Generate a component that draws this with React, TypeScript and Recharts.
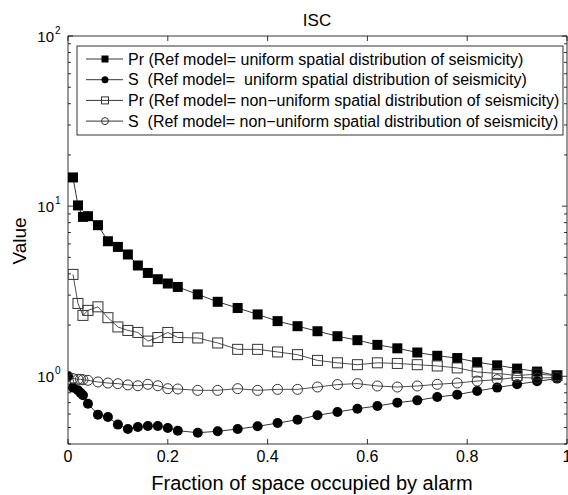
import { LineChart, Line, XAxis, YAxis, ReferenceArea } from "recharts";

// x positions (fraction of space occupied by alarm)
const PR_X = [
  0.01, 0.02, 0.03, 0.04, 0.06, 0.08, 0.1, 0.12, 0.14, 0.16, 0.18, 0.2, 0.22,
  0.26, 0.3, 0.34, 0.38, 0.42, 0.46, 0.5, 0.54, 0.58, 0.62, 0.66, 0.7, 0.74,
  0.78, 0.82, 0.86, 0.9, 0.94, 0.98,
];
const S_X = [
  0, 0.01, 0.02, 0.025, 0.03, 0.04, 0.06, 0.08, 0.1, 0.12, 0.14, 0.16, 0.18,
  0.2, 0.22, 0.26, 0.3, 0.34, 0.38, 0.42, 0.46, 0.5, 0.54, 0.58, 0.62, 0.66,
  0.7, 0.74, 0.78, 0.82, 0.86, 0.9, 0.94, 0.98,
];

const PR_UNIFORM = [
  14.75, 10.1, 8.65, 8.73, 7.73, 6.22, 5.76, 5.2, 4.48, 4.05, 3.72, 3.51, 3.35,
  3.03, 2.74, 2.52, 2.31, 2.11, 1.97, 1.84, 1.72, 1.63, 1.53, 1.46, 1.38, 1.32,
  1.28, 1.21, 1.16, 1.11, 1.066, 1.01,
];
const S_UNIFORM = [
  1.0, 0.858, 0.827, 0.8, 0.773, 0.69, 0.595, 0.577, 0.52, 0.49, 0.503, 0.51,
  0.51, 0.497, 0.479, 0.466, 0.475, 0.49, 0.508, 0.531, 0.556, 0.59, 0.617,
  0.645, 0.669, 0.7, 0.722, 0.755, 0.78, 0.82, 0.858, 0.897, 0.934, 0.969,
];
const PR_NONUNIFORM = [
  3.97, 2.68, 2.28, 2.44, 2.56, 2.21, 1.95, 1.86, 1.81, 1.61, 1.69, 1.81, 1.69,
  1.68, 1.57, 1.44, 1.44, 1.39, 1.34, 1.24, 1.2, 1.17, 1.2, 1.19, 1.17, 1.15,
  1.12, 1.06, 1.04, 1.01, 1.03, 1.01,
];
const S_NONUNIFORM = [
  1.0, 0.97, 0.96, 0.96, 0.955, 0.947, 0.926, 0.913, 0.905, 0.89, 0.88, 0.897,
  0.88, 0.846, 0.842, 0.827, 0.827, 0.846, 0.827, 0.838, 0.838, 0.865, 0.894,
  0.906, 0.877, 0.865, 0.877, 0.897, 0.913, 0.938, 0.956, 0.985, 0.975, 0.985,
];

const X_TICKS = [0, 0.2, 0.4, 0.6, 0.8, 1];
const Y_TICKS = [
  0.4, 0.5, 0.6, 0.7, 0.8, 0.9, 1, 2, 3, 4, 5, 6, 7, 8, 9, 10, 20, 30, 40, 50,
  60, 70, 80, 90, 100,
];
const Y_MAJOR = [1, 10, 100];

const LEGEND_LABELS = [
  "Pr (Ref model= uniform spatial distribution of seismicity)",
  "S  (Ref model=  uniform spatial distribution of seismicity)",
  "Pr (Ref model= non\u2212uniform spatial distribution of seismicity)",
  "S  (Ref model= non\u2212uniform spatial distribution of seismicity)",
];

const W = 568;
const H = 495;
const L = 68;
const R = 567;
const T = 36;
const B = 444;
const FONT = '"Liberation Sans", Arial, Helvetica, sans-serif';

const zip = (xs: number[], ys: number[]) => xs.map((x, i) => ({ x, y: ys[i] }));

type Shape = "fsquare" | "fcircle" | "osquare" | "ocircle";

function marker(shape: Shape, cx: number, cy: number, s: number, key?: string) {
  const h = s / 2;
  if (shape === "fsquare")
    return <rect key={key} x={cx - h} y={cy - h} width={s} height={s} fill="#000" />;
  if (shape === "fcircle")
    return <circle key={key} cx={cx} cy={cy} r={h} fill="#000" />;
  if (shape === "osquare")
    return (
      <rect key={key} x={cx - h} y={cy - h} width={s} height={s} fill="none" stroke="#333" strokeWidth={1} />
    );
  return <circle key={key} cx={cx} cy={cy} r={h} fill="none" stroke="#333" strokeWidth={1} />;
}

const dotFor = (shape: Shape, prefix: string) => (p: any) =>
  marker(shape, p.cx, p.cy, 10, `${prefix}-${p.index}`);

function XTick(props: any) {
  const { x, payload } = props;
  return (
    <g>
      <line x1={x} x2={x} y1={B} y2={B - 5} stroke="#000" strokeWidth={0.8} />
      <line x1={x} x2={x} y1={T} y2={T + 5} stroke="#000" strokeWidth={0.8} />
      <text x={x} y={462} textAnchor="middle" fontSize={16} fontFamily={FONT} fill="#000">
        {String(payload.value)}
      </text>
    </g>
  );
}

function YTick(props: any) {
  const { y, payload } = props;
  const v = payload.value;
  const major = Y_MAJOR.includes(v);
  const len = major ? 5 : 3;
  return (
    <g>
      <line x1={L} x2={L + len} y1={y} y2={y} stroke="#000" strokeWidth={0.8} />
      <line x1={R - len} x2={R} y1={y} y2={y} stroke="#000" strokeWidth={0.8} />
      {major && (
        <g fontFamily={FONT} fill="#000">
          <text x={54} y={y + 5.5} textAnchor="end" fontSize={15}>
            10
          </text>
          <text x={55} y={y - 2.5} fontSize={10}>
            {Math.round(Math.log10(v))}
          </text>
        </g>
      )}
    </g>
  );
}

const SHAPES: Shape[] = ["fsquare", "fcircle", "osquare", "ocircle"];

export default function App() {
  return (
    <div style={{ position: "absolute", left: 0, top: 0, width: W, height: H, background: "#fff" }}>
      <LineChart width={W} height={H} margin={{ top: T, right: W - R, bottom: 0, left: 0 }}>
        <XAxis
          type="number"
          dataKey="x"
          domain={[0, 1]}
          ticks={X_TICKS}
          interval={0}
          height={H - B}
          tick={<XTick />}
          tickLine={false}
          axisLine={false}
          allowDataOverflow
        />
        <YAxis
          type="number"
          dataKey="y"
          scale="log"
          domain={[0.4, 100]}
          ticks={Y_TICKS}
          interval={0}
          width={L}
          tick={<YTick />}
          tickLine={false}
          axisLine={false}
          allowDataOverflow
        />
        <ReferenceArea x1={0} x2={1} y1={0.4} y2={100} fill="none" stroke="#000" strokeWidth={0.8} />
        <Line
          type="linear"
          data={zip(PR_X, PR_UNIFORM)}
          dataKey="y"
          stroke="#000"
          strokeWidth={0.8}
          dot={dotFor("fsquare", "pu")}
          isAnimationActive={false}
        />
        <Line
          type="linear"
          data={zip(S_X, S_UNIFORM)}
          dataKey="y"
          stroke="#000"
          strokeWidth={0.8}
          dot={dotFor("fcircle", "su")}
          isAnimationActive={false}
        />
        <Line
          type="linear"
          data={zip(PR_X, PR_NONUNIFORM)}
          dataKey="y"
          stroke="#222"
          strokeWidth={0.8}
          dot={dotFor("osquare", "pn")}
          isAnimationActive={false}
        />
        <Line
          type="linear"
          data={zip(S_X, S_NONUNIFORM)}
          dataKey="y"
          stroke="#222"
          strokeWidth={0.8}
          dot={dotFor("ocircle", "sn")}
          isAnimationActive={false}
        />
      </LineChart>
      <svg
        width={W}
        height={H}
        style={{ position: "absolute", left: 0, top: 0, pointerEvents: "none" }}
        fontFamily={FONT}
      >
        <text x={317} y={26} textAnchor="middle" fontSize={17} fill="#000">
          ISC
        </text>
        <text x={312} y={490} textAnchor="middle" fontSize={20} fill="#000">
          Fraction of space occupied by alarm
        </text>
        <text
          x={26}
          y={241}
          textAnchor="middle"
          fontSize={19}
          fill="#000"
          transform="rotate(-90 26 241)"
        >
          Value
        </text>
        <rect x={77} y={46} width={486} height={89} fill="#fff" stroke="#000" strokeWidth={0.8} />
        {LEGEND_LABELS.map((label, i) => {
          const y = 59 + i * 20.7;
          return (
            <g key={label}>
              <line x1={86} x2={123} y1={y} y2={y} stroke="#000" strokeWidth={0.8} />
              {marker(SHAPES[i], 105, y, 7)}
              <text x={128} y={y + 5.5} fontSize={16} fill="#000" style={{ whiteSpace: "pre" }}>
                {label}
              </text>
            </g>
          );
        })}
      </svg>
    </div>
  );
}
